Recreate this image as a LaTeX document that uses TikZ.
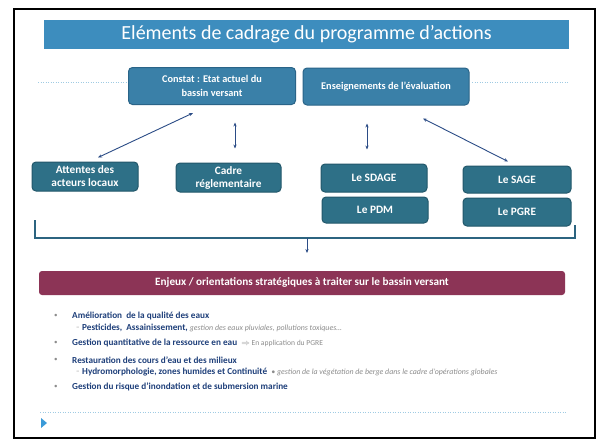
\documentclass[tikz,border=0pt]{standalone}
\usepackage{fontspec}
\setmainfont{Carlito}
\usetikzlibrary{arrows.meta,calc}
\definecolor{titleblue}{HTML}{3D8DBE}
\definecolor{topbox}{HTML}{3A80A8}
\definecolor{topedge}{HTML}{2A6488}
\definecolor{lowbox}{HTML}{2E7087}
\definecolor{lowedge}{HTML}{22576A}
\definecolor{enjeuxc}{HTML}{8C3456}
\definecolor{arrowblue}{HTML}{2B4C86}
\definecolor{bracketc}{HTML}{2C6480}
\definecolor{navy}{HTML}{1E3F7A}
\definecolor{greytext}{HTML}{8C8C8C}
\definecolor{dotblue}{HTML}{9FCBE3}
\definecolor{triblue}{HTML}{3A9AD8}
\newcommand\mygreynote{\color{greytext}\itshape\mdseries\fontsize{7.9}{8}\selectfont}
\newcommand\mygreyplain{\color{greytext}\mdseries\fontsize{7.6}{8}\selectfont}
\tikzset{
  titlebar/.style={fill=titleblue, text=white, font=\fontsize{20}{22}\selectfont, inner sep=0pt},
  topnode/.style={draw=topedge, line width=1pt, fill=topbox, rounded corners=4pt, text=white,
     font=\bfseries\fontsize{10.3}{14}\selectfont, align=center, inner sep=0pt},
  lownode/.style={draw=lowedge, line width=1pt, fill=lowbox, rounded corners=4pt, text=white,
     font=\bfseries\fontsize{11.3}{13}\selectfont, align=center, inner sep=0pt},
  enjeuxbar/.style={fill=enjeuxc, rounded corners=3pt, text=white,
     font=\bfseries\fontsize{11.2}{12}\selectfont, inner sep=0pt},
  linkarrow/.style={arrowblue, line width=0.9pt, {Stealth[length=4pt,width=3.2pt]}-{Stealth[length=4pt,width=3.2pt]}},
  bracketline/.style={bracketc, line width=1.1pt},
  dotline/.style={dotblue, line width=0.8pt, dash pattern=on 1pt off 1.5pt},
  bulletmark/.style={anchor=west, inner sep=0pt, text=greytext, font=\fontsize{7}{8}\selectfont},
  itemtext/.style={anchor=west, inner sep=0pt, text=navy, font=\bfseries\fontsize{9.2}{10}\selectfont},
}
\begin{document}
\begin{tikzpicture}[x=1pt,y=-1pt]
\useasboundingbox (0,0) rectangle (597,440);
\fill[white] (0,0) rectangle (597,440);
\draw[line width=1.8pt] (14,9) rectangle (595,438);

% title
\node[titlebar, minimum width=525, minimum height=29] (title) at (306.5,34.5) {Eléments de cadrage du programme d’actions};

% dotted lines
\draw[dotline] (38,82) -- (126,82);
\draw[dotline] (472,82) -- (568,82);

% top boxes
\node[topnode, minimum width=167, minimum height=37] (constat) at (212,86) {Constat : Etat actuel du\\bassin versant};
\node[topnode, minimum width=166, minimum height=37] (enseign) at (386,86.5) {Enseignements de l’évaluation};

% lower boxes
\node[lownode, minimum width=106, minimum height=29] (attentes) at (85,176.5) {Attentes des\\acteurs locaux};
\node[lownode, minimum width=105, minimum height=29] (cadre) at (228.5,177.5) {Cadre\\réglementaire};
\node[lownode, minimum width=106, minimum height=28] (sdage) at (374,178) {Le SDAGE};
\node[lownode, minimum width=106, minimum height=26] (pdm) at (375,210) {Le PDM};
\node[lownode, minimum width=108, minimum height=27] (sage) at (517,179.5) {Le SAGE};
\node[lownode, minimum width=108, minimum height=28] (pgre) at (517,212) {Le PGRE};

% arrows
\draw[linkarrow] ($(constat.south)+(-19,8)$) -- ($(attentes.north)+(13,-4)$);
\draw[linkarrow] ($(cadre.north)+(6.5,-40)$) -- ($(cadre.north)+(6.5,-14)$);
\draw[linkarrow] ($(sdage.north)+(-7,-40)$) -- ($(sdage.north)+(-7,-14)$);
\draw[linkarrow] ($(enseign.south)+(37,13)$) -- ($(sage.north)+(-9,-4)$);

% bracket
\coordinate (bl) at (35,220);
\coordinate (blc) at (35,238);
\coordinate (brc) at (575,238);
\coordinate (br) at (575,225);
\coordinate (bmid) at (307,238);
\draw[bracketline] (bl) -- (blc) -- (brc) -- (br);

% enjeux bar
\node[enjeuxbar, minimum width=526, minimum height=24] (enjeux) at (302,283) {Enjeux / orientations stratégiques à traiter sur le bassin versant};
\draw[arrowblue, line width=0.9pt, -{Stealth[length=4pt,width=3.2pt]}] (bmid) -- (bmid |- 0,253);

% bullet list
\node[bulletmark] (b1) at (54,316) {•};
\node[itemtext] (t1) at (72,316) {Amélioration\ \ de la qualité des eaux};
\node[bulletmark] (s1) at (76,328) {–};
\node[itemtext] (t2) at (82,328) {Pesticides,\ \ Assainissement, {\mygreynote gestion des eaux pluviales, pollutions toxiques…}};
\node[bulletmark] (b2) at (54,343) {•};
\node[itemtext] (t3) at (72,343) {Gestion quantitative de la ressource en eau\ \ {\mygreyplain $\Rightarrow$ En application du PGRE}};
\node[bulletmark] (b3) at (54,360) {•};
\node[itemtext] (t4) at (72,360) {Restauration des cours d’eau et des milieux};
\node[bulletmark] (s2) at (76,372) {–};
\node[itemtext] (t5) at (82,372) {Hydromorphologie, zones humides et Continuité\ \ {\mygreynote • gestion de la végétation de berge dans le cadre d’opérations globales}};
\node[bulletmark] (b4) at (54,387) {•};
\node[itemtext] (t6) at (72,387) {Gestion du risque d’inondation et de submersion marine};

% bottom dotted line and marker
\draw[dotline] (40,412) -- (567,412);
\fill[triblue] (41,418) -- (47,423) -- (41,428) -- cycle;
\end{tikzpicture}
\end{document}
